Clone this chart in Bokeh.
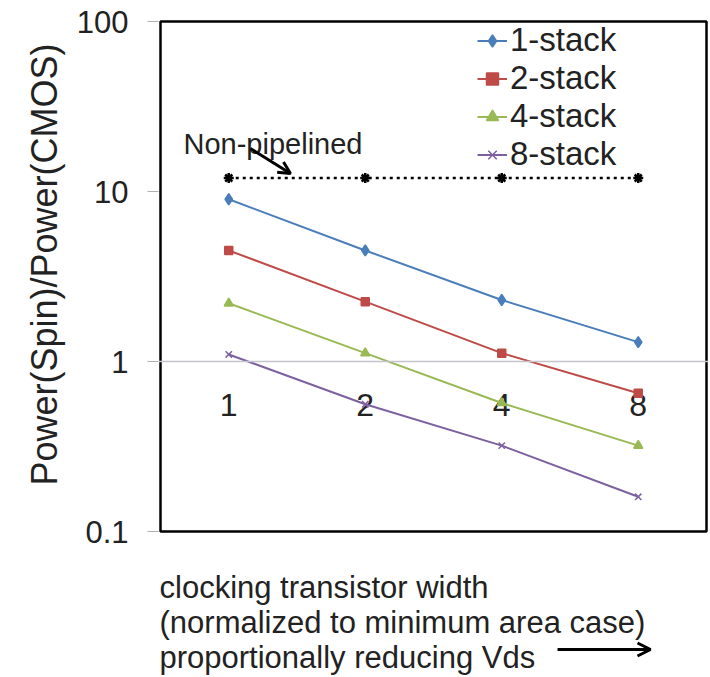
import math
from bokeh.plotting import figure
from bokeh.models import (ColumnDataSource, FixedTicker, NumeralTickFormatter, Range1d, Title,
                          Legend, LegendItem, Label, Arrow, OpenHead, FactorRange, Span, BoxAnnotation)
from bokeh.core.properties import value
from bokeh.embed import file_html
from bokeh.resources import INLINE

# ---- data ----
categories = ["1", "2", "4", "8"]
stack1 = [9.0, 4.5, 2.3, 1.3]
stack2 = [4.5, 2.25, 1.12, 0.65]
stack4 = [2.2, 1.12, 0.57, 0.32]
stack8 = [1.1, 0.56, 0.32, 0.16]
non_pipelined = [12.0, 12.0, 12.0, 12.0]
y_ticks = [0.1, 1, 10, 100]
y_min, y_max = 0.1, 100
x_cross = 1
series_names = ["1-stack", "2-stack", "4-stack", "8-stack"]

FONT = "Liberation Sans"
TXT = "#222222"

W, H = 710, 677
LEFT, RIGHT, TOP = 158, 2, 19          # frame edges (box drawn 2px inside)
PX_PER_DECADE = 170.0
PX_PER_CAT = 136.5
pad = 2 / PX_PER_CAT
y_top = y_max * 10 ** (2 / PX_PER_DECADE)
y_low = y_max * 10 ** (-(H - 21) / PX_PER_DECADE)

p = figure(width=W, height=H,
           x_range=FactorRange(*categories, range_padding=pad, range_padding_units="absolute"),
           y_axis_type="log", y_range=Range1d(y_low, y_top), x_axis_location=None,
           output_backend="svg", toolbar_location=None,
           min_border_left=LEFT, min_border_right=RIGHT, min_border_top=TOP, min_border_bottom=0)
p.background_fill_color = "white"
p.border_fill_color = "white"
p.outline_line_color = None
p.xgrid.visible = False
p.ygrid.visible = False

# box = visible plot area
p.add_layout(BoxAnnotation(left=0, right=len(categories), bottom=y_min, top=y_max,
                           fill_alpha=0, line_color="black", line_alpha=1, line_width=2.5))

# y axis
ya = p.yaxis[0]
ya.ticker = FixedTicker(ticks=y_ticks, minor_ticks=[])
ya.formatter = NumeralTickFormatter(format="0.[0]")
ya.axis_line_color = None
ya.major_tick_out = 11
ya.major_tick_in = 0
ya.major_tick_line_color = "#b0b0b0"
ya.minor_tick_line_color = None
ya.major_label_standoff = 19
ya.major_label_text_font = FONT
ya.major_label_text_font_size = "31px"
ya.major_label_text_color = TXT

ytitle = Title(text="Power(Spin)/Power(CMOS)", align="left", offset=192, standoff=18,
               text_font=FONT, text_font_size="36px", text_font_style="normal", text_color=TXT)
p.add_layout(ytitle, "left")

src = ColumnDataSource(dict(x=categories, s1=stack1, s2=stack2, s4=stack4, s8=stack8, np=non_pipelined))

# horizontal axis crossing at y = 1, with category labels below it
p.add_layout(Span(location=x_cross, dimension="width", line_color="#c4c4cc", line_width=1.5))
p.text(x="x", y=x_cross, text="x", source=src, y_offset=43, text_align="center",
       text_baseline="alphabetic", text_font=value(FONT), text_font_size="32px", text_color=TXT)

# non-pipelined dotted line
p.line("x", "np", source=src, color="black", line_width=2.5, line_dash="3 4")
p.scatter("x", "np", source=src, marker="asterisk", size=10, line_color="black", line_width=2.5)

colors = ["#4A7EBB", "#BE4B48", "#98B954", "#7D60A0"]
markers = ["diamond", "square", "triangle", "x"]
sizes = [11, 8, 9, 9]
cols = ["s1", "s2", "s4", "s8"]
items = []
for name, col, c, m, s in zip(series_names, cols, colors, markers, sizes):
    r1 = p.line("x", col, source=src, color=c, line_width=2)
    r2 = p.scatter("x", col, source=src, marker=m, size=s, fill_color=c, line_color=c, line_width=1.5)
    items.append(LegendItem(label=name, renderers=[r1, r2]))

legend = Legend(items=items, location=(319, 504), background_fill_alpha=0, border_line_color=None,
                padding=0, margin=0, spacing=0, glyph_width=30, glyph_height=37, label_height=37,
                label_standoff=3, label_text_font=FONT, label_text_font_size="33px",
                label_text_color=TXT, label_text_baseline="middle")
p.add_layout(legend, "center")

# annotation: Non-pipelined
p.add_layout(Label(x=25, y=H - 143, x_units="screen", y_units="screen", text="Non-pipelined",
                   text_font=FONT, text_font_size="29px", text_color=TXT, text_baseline="alphabetic"))
p.add_layout(Arrow(x_start=92, y_start=H - 148, x_end=132, y_end=H - 173,
                   start_units="screen", end_units="screen",
                   line_color="black", line_width=3,
                   end=OpenHead(size=12, line_color="black", line_width=3)))

# x description below the box
lines = ["clocking transistor width", "(normalized to minimum area case)", "proportionally reducing Vds"]
baselines = [587, 622, 657]
for t, b in zip(lines, baselines):
    p.add_layout(Label(x=1, y=H - b, x_units="screen", y_units="screen", text=t,
                       text_font=FONT, text_font_size="31px", text_color=TXT, text_baseline="alphabetic"))
p.add_layout(Arrow(x_start=399, y_start=H - 649, x_end=492, y_end=H - 649,
                   start_units="screen", end_units="screen",
                   line_color="black", line_width=3,
                   end=OpenHead(size=13, line_color="black", line_width=3)))

open("out.html", "w").write(file_html(p, INLINE))
